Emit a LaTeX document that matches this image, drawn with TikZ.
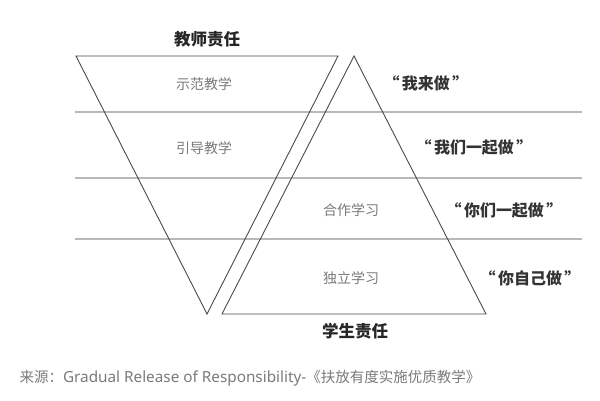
\documentclass[tikz,border=0pt]{standalone}
\usepackage{fontspec}
\setmainfont{Noto Sans CJK SC}
\newfontfamily\latinfont{Noto Sans}
\usetikzlibrary{positioning}
\definecolor{rulegray}{HTML}{B8B8B8}
\definecolor{labelgray}{HTML}{7A7A7A}
\definecolor{edgegray}{HTML}{4A4A4A}
\newcommand{\sayq}[1]{“\kern2.5pt#1\kern2.5pt”}
\tikzset
{
    headnode/.style  = {align=center, font=\fontsize{16.5}{19}\selectfont\bfseries, text=black!85},
    levelnode/.style = {align=center, font=\fontsize{14}{17}\selectfont, text=labelgray},
    saynode/.style   = {align=center, font=\fontsize{16}{19}\selectfont\bfseries, text=black!80},
    rule/.style      = {draw=rulegray, line width=1.4pt},
    edge/.style      = {draw=edgegray, line width=0.9pt, line join=miter}
}

\begin{document}
\begin{tikzpicture}[x=1pt, y=-1pt]
\useasboundingbox (0,0) rectangle (600,400);
% level rules
\coordinate (r1l) at (75,112);  \coordinate (r1r) at (582,112);
\coordinate (r2l) at (75,178);  \coordinate (r2r) at (582,178);
\coordinate (r3l) at (75,239);  \coordinate (r3r) at (582,239);
\draw[rule] (r1l) -- (r1r);
\draw[rule] (r2l) -- (r2r);
\draw[rule] (r3l) -- (r3r);
% teacher triangle
\coordinate (tl) at (76,56);
\coordinate (tr) at (338,56);
\coordinate (tb) at (207,314);
\draw[edge] (tl) -- (tr) -- (tb) -- cycle;
% student triangle
\coordinate (st) at (354,56);
\coordinate (sl) at (222,314);
\coordinate (sr) at (486,314);
\draw[edge] (st) -- (sr) -- (sl) -- cycle;
% labels
\node[headnode] (teacher) at (207,39) {教师责任};
\node[headnode] (student) at (355,331) {学生责任};
\node[levelnode] (model) at (204,84) {示范教学};
\node[levelnode] (guide) at (204,148) {引导教学};
\node[levelnode] (coop) at (351,210) {合作学习};
\node[levelnode] (indep) at (351,278) {独立学习};
\node[saynode] (s1) at (426,83) {\sayq{我来做}};
\node[saynode] (s2) at (474,147) {\sayq{我们一起做}};
\node[saynode] (s3) at (504,210) {\sayq{你们一起做}};
\node[saynode] (s4) at (530,278) {\sayq{你自己做}};
\node[levelnode, anchor=west, font=\fontsize{14.5}{17}\selectfont] (src) at (16,378)
    {来源：{\latinfont\fontsize{15.3}{17}\selectfont Gradual Release of Responsibility-}《扶放有度实施优质教学》};
\end{tikzpicture}
\end{document}
